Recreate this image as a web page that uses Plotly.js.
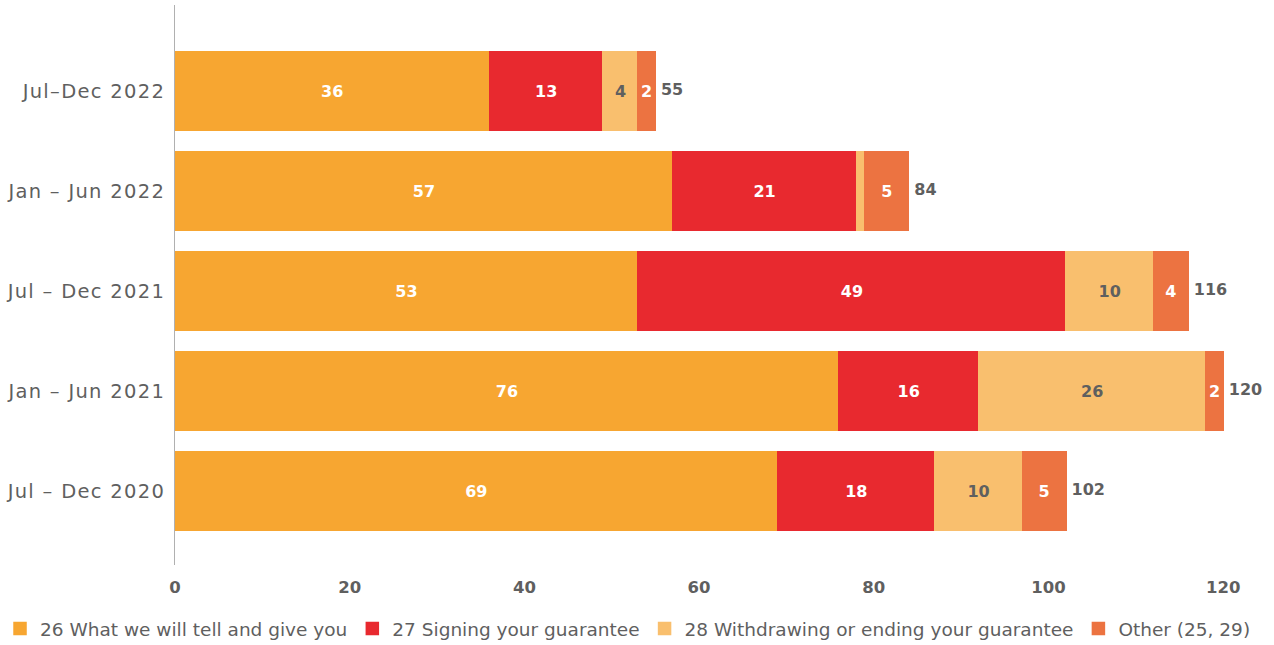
<!DOCTYPE html>
<html><head><meta charset="utf-8">
<script src="https://cdn.plot.ly/plotly-3.0.1.min.js"></script>
<style>html,body{margin:0;padding:0;background:#fff}#chart{width:1274px;height:645px}
#chart .ytick text{letter-spacing:1.3px}
</style>
</head><body><div id="chart"></div>
<script>
const periods = ["Jul – Dec 2020", "Jan – Jun 2021", "Jul – Dec 2021", "Jan – Jun 2022", "Jul–Dec 2022"];
const whatWeTell = [69, 76, 53, 57, 36];
const signing = [18, 16, 49, 21, 13];
const withdrawing = [10, 26, 10, 1, 4];
const other = [5, 2, 4, 5, 2];
const seriesNames = ["26 What we will tell and give you", "27 Signing your guarantee", "28 Withdrawing or ending your guarantee", "Other (25, 29)"];
const colors = ["#F7A631", "#E8292F", "#F9BF6E", "#EC7341"];
const labelColors = ["#ffffff", "#ffffff", "#5f5f5f", "#ffffff"];
const minLabel = 2;

const fontFam = "DejaVu Sans, sans-serif";
const series = [whatWeTell, signing, withdrawing, other];
const traces = series.map((vals, i) => ({
  type: "bar", orientation: "h", name: seriesNames[i],
  y: periods, x: vals,
  marker: {color: colors[i], line: {width: 1.5, color: colors[i]}},
  text: vals.map(v => v >= minLabel ? String(v) : ""),
  textposition: "inside", insidetextanchor: "middle", textangle: 0,
  constraintext: "none",
  textfont: {family: fontFam, size: 16, color: labelColors[i], weight: 700},
  hoverinfo: "x+name", width: 0.78
}));
const totals = periods.map((_, k) => series.reduce((s, arr) => s + arr[k], 0));
traces.push({
  type: "scatter", mode: "text", y: periods, x: totals,
  text: totals.map(t => " " + t), textposition: "middle right",
  textfont: {family: fontFam, size: 16, color: "#5f5f5f", weight: 700},
  cliponaxis: false, showlegend: false, hoverinfo: "skip"
});

const layout = {
  width: 1274, height: 645,
  margin: {l: 175, r: 4, t: 5, b: 80, autoexpand: false},
  paper_bgcolor: "#fff", plot_bgcolor: "#fff",
  barmode: "stack", bargap: 0.22,
  font: {family: fontFam, color: "#5f5f5f"},
  xaxis: {range: [0, 125.36], tickvals: [0, 20, 40, 60, 80, 100, 120], showgrid: false, zeroline: false, showline: false,
          ticks: "", ticklabelstandoff: 10,
          tickfont: {family: fontFam, size: 16.5, color: "#5f5f5f", weight: 700}},
  yaxis: {type: "category", range: [-0.74, 4.86], showgrid: false, zeroline: false,
          showline: true, linecolor: "#b0b0b0", linewidth: 1, ticks: "",
          ticklabelstandoff: 5,
          tickfont: {family: fontFam, size: 19.5, color: "#5f5f5f"}},
  legend: {orientation: "h", x: -0.1598, xanchor: "left", y: -0.1482, yanchor: "bottom",
           font: {family: fontFam, size: 18.5, color: "#5f5f5f"}, traceorder: "normal",
           itemwidth: 30},
  showlegend: true
};
Plotly.newPlot("chart", traces, layout, {displayModeBar: false, staticPlot: true});
</script></body></html>
